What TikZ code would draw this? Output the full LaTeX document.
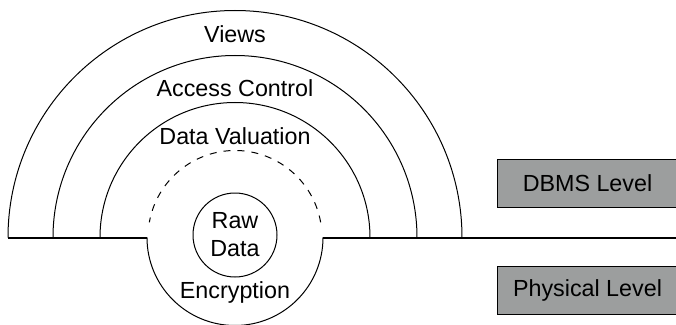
\documentclass[tikz,border=0pt]{standalone}
\usepackage{fontspec}
\setmainfont{Liberation Sans}
\usetikzlibrary{positioning}

\definecolor{boxgray}{RGB}{156,158,158}
\tikzset{
    ring/.style={line width=1pt},
    ground/.style={line width=2pt},
    layertext/.style={font=\fontsize{23.3}{28}\selectfont, anchor=base, inner sep=0pt},
    levelbox/.style={draw, line width=1pt, fill=boxgray, minimum width=181pt, minimum height=48pt,
        inner sep=0pt, font=\fontsize{23.3}{28}\selectfont}
}

\begin{document}
\begin{tikzpicture}[x=1pt, y=1pt]
        \useasboundingbox (-235,-86.5) rectangle (441,237.5);

        % DBMS side: half rings
        \foreach \r in {227, 182, 135}
            \draw[ring] (-\r,0) arc (180:0:\r);
        \node[layertext] (views) at (0,194.5) {Views};
        \node[layertext] (access) at (0,140.5) {Access Control};
        \node[layertext] (valuation) at (0,92.5) {Data Valuation};

        % physical side
        \draw[ring, dash pattern=on 7pt off 7pt] (10:87) arc (10:170:87);
        \draw[ring] (-88,0) arc (180:360:88);
        \node[layertext] (encryption) at (0,-60.5) {Encryption};
        \node[draw, ring, circle, minimum size=84pt, inner sep=0pt, align=center,
              font=\fontsize{23.3}{28}\selectfont] (rawdata) at (0,2.5) {Raw\\Data};

        % boundary line
        \draw[ground] (-227,0) -- (-88,0);
        \draw[ground] (88,0) -- (441,0);

        \node[levelbox] (dbms) at (352.5,54.5) {DBMS Level};
        \node[levelbox] (physical) at (352.5,-53) {Physical Level};
    \end{tikzpicture}
\end{document}
